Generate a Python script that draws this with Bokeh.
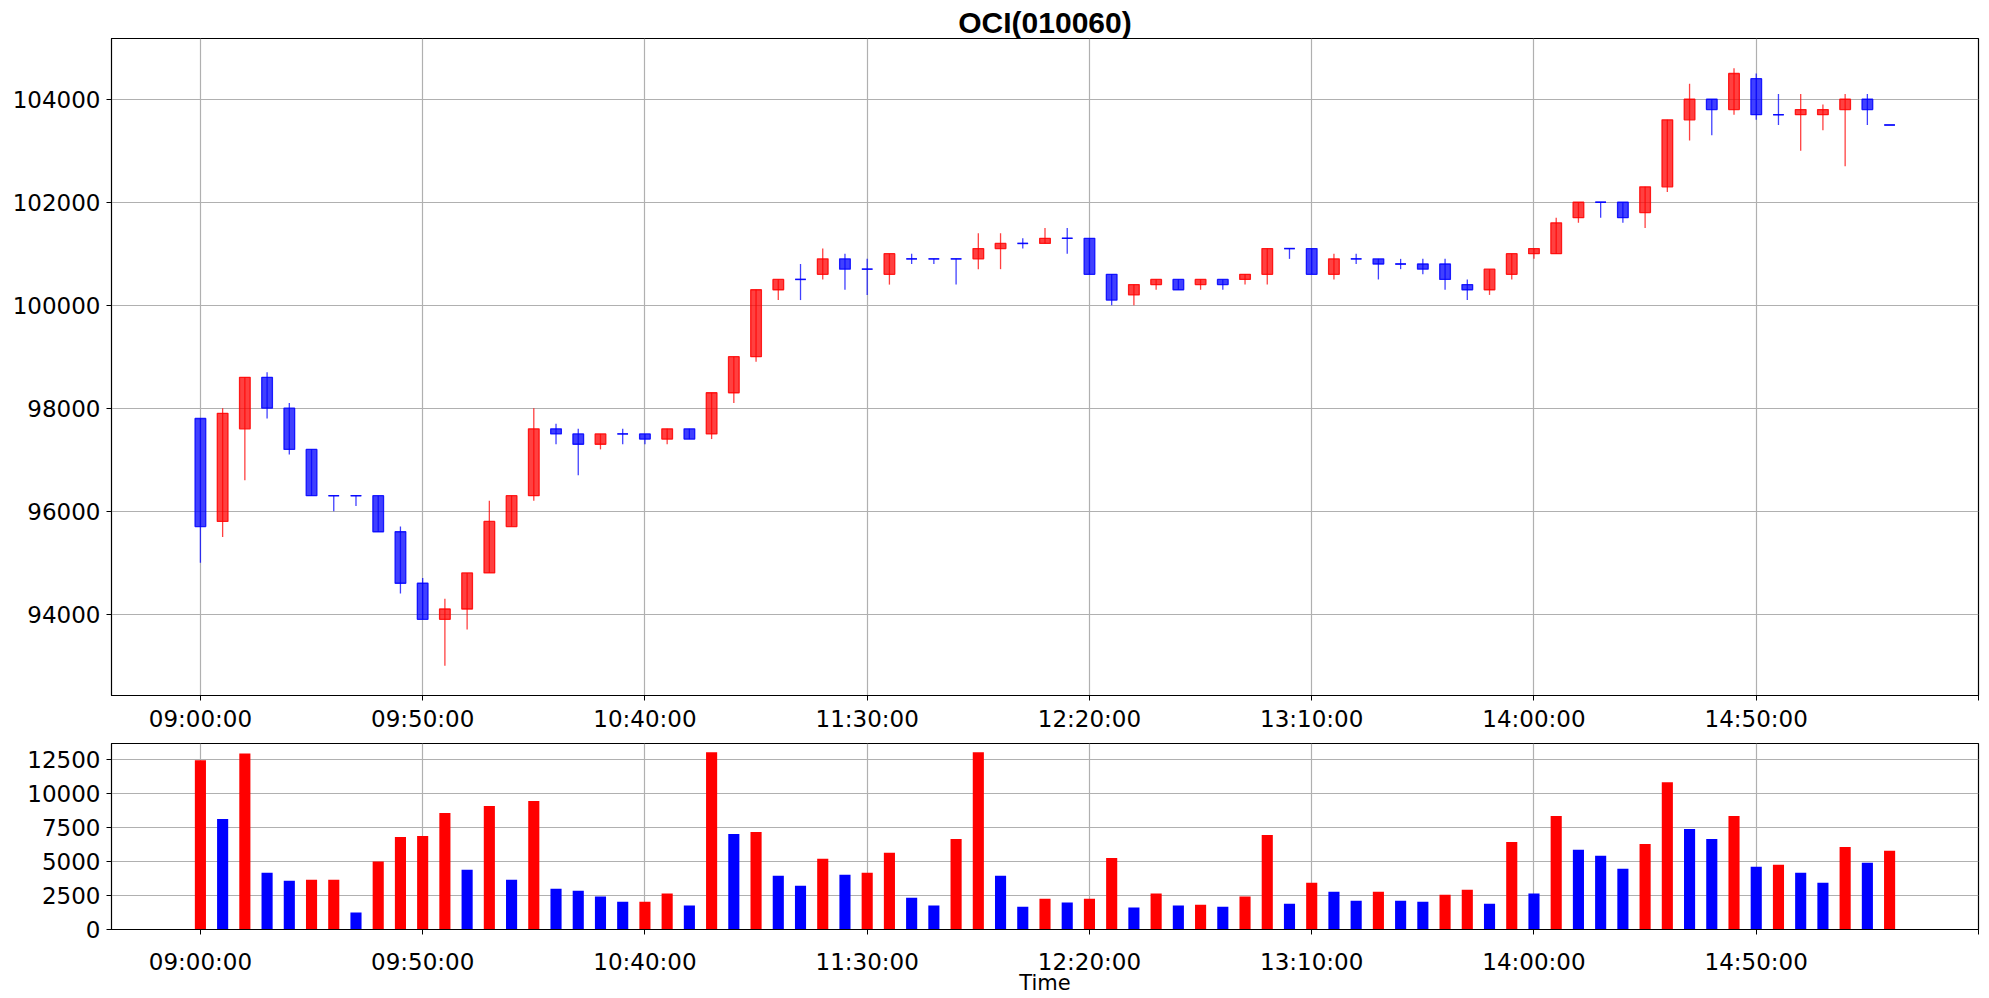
from bokeh.plotting import figure
from bokeh.models import Range1d, FixedTicker, ColumnDataSource
from bokeh.layouts import column
from bokeh.embed import file_html
from bokeh.resources import INLINE

title_text = "OCI(010060)"

# 5-minute bars, 09:00:00 .. 15:20:00
times = []
for k in range(77):
    m = 9 * 60 + 5 * k
    times.append(f"{m // 60:02d}:{m % 60:02d}:00")

open_ = [97800, 95800, 97600, 98600, 98000, 97200, 96300, 96300, 96300, 95600,
         94600, 93900, 94100, 94800, 95700, 96300, 97600, 97500, 97300, 97500,
         97500, 97400, 97600, 97500, 98300, 99000, 100300, 100500, 100600, 100900,
         100700, 100600, 100900, 100900, 100900, 100900, 101100, 101200, 101200, 101300,
         101300, 100600, 100200, 100400, 100500, 100400, 100500, 100500, 100600, 101100,
         101100, 100600, 100900, 100900, 100800, 100800, 100800, 100400, 100300, 100600,
         101000, 101000, 101700, 102000, 102000, 101800, 102300, 103600, 104000, 103800,
         104400, 103700, 103700, 103700, 103800, 104000, 103500]
high = [97800, 98000, 98600, 98700, 98100, 97200, 96300, 96300, 96300, 95700,
        94700, 94300, 94800, 96200, 96300, 98000, 97700, 97600, 97500, 97600,
        97500, 97600, 97600, 98300, 99000, 100300, 100500, 100800, 101100, 101000,
        100900, 101000, 101000, 100900, 100900, 101400, 101400, 101300, 101500, 101500,
        101300, 100600, 100400, 100500, 100500, 100500, 100500, 100600, 101100, 101100,
        101100, 101000, 101000, 100900, 100900, 100900, 100900, 100500, 100700, 101000,
        101100, 101700, 102000, 102000, 102000, 102300, 103600, 104300, 104000, 104600,
        104500, 104100, 104100, 103900, 104100, 104100, 103500]
low = [95000, 95500, 96600, 97800, 97100, 96300, 96000, 96100, 95600, 94400,
       93900, 93000, 93700, 94800, 95700, 96200, 97300, 96700, 97200, 97300,
       97300, 97300, 97400, 97400, 98100, 98900, 100100, 100100, 100500, 100300,
       100200, 100400, 100800, 100800, 100400, 100700, 100700, 101100, 101200, 101000,
       100600, 100000, 100000, 100300, 100300, 100300, 100300, 100400, 100400, 100900,
       100600, 100500, 100800, 100500, 100700, 100600, 100300, 100100, 100200, 100500,
       100900, 101000, 101600, 101700, 101600, 101500, 102200, 103200, 103300, 103700,
       103600, 103500, 103000, 103400, 102700, 103500, 103500]
close = [95700, 97900, 98600, 98000, 97200, 96300, 96300, 96300, 95600, 94600,
         93900, 94100, 94800, 95800, 96300, 97600, 97500, 97300, 97500, 97500,
         97400, 97600, 97400, 98300, 99000, 100300, 100500, 100500, 100900, 100700,
         100700, 101000, 100900, 100900, 100900, 101100, 101200, 101200, 101300, 101300,
         100600, 100100, 100400, 100500, 100300, 100500, 100400, 100600, 101100, 101100,
         100600, 100900, 100900, 100800, 100800, 100700, 100500, 100300, 100700, 101000,
         101100, 101600, 102000, 102000, 101700, 102300, 103600, 104000, 103800, 104500,
         103700, 103700, 103800, 103800, 104000, 103800, 103500]
volume = [12450, 8130, 12960, 4170, 3590, 3660, 3660, 1245, 5000, 6810,
          6880, 8570, 4390, 9080, 3660, 9450, 3000, 2860, 2420, 2050,
          2050, 2640, 1760, 13035, 7030, 7180, 3950, 3220, 5200, 4030,
          4170, 5640, 2340, 1760, 6660, 13035, 3950, 1680, 2270, 1980,
          2270, 5270, 1610, 2640, 1760, 1830, 1680, 2420, 6960, 1900,
          3440, 2780, 2120, 2780, 2120, 2050, 2560, 2930, 1900, 6440,
          2640, 8350, 5860, 5420, 4470, 6300, 10840, 7400, 6660, 8350,
          4610, 4760, 4170, 3440, 6080, 4910, 5790]

price_ticks = [94000, 96000, 98000, 100000, 102000, 104000]
volume_ticks = [0, 2500, 5000, 7500, 10000, 12500]

UP = "#ff0000"
DOWN = "#0000ff"

n = len(times)
xs = list(range(n))
x_ticks = list(range(0, 81, 10))
x_labels = {t: (times[t] if t < n else "") for t in x_ticks}

candle_color = [UP if c > o else DOWN for o, c in zip(open_, close)]
body_top = [max(o, c) for o, c in zip(open_, close)]
body_bot = [min(o, c) for o, c in zip(open_, close)]
vol_color = [UP] + [UP if volume[i] >= volume[i - 1] else DOWN for i in range(1, n)]

BODY_W = 0.48

src = ColumnDataSource(dict(x=xs, o=open_, h=high, l=low, c=close,
                            top=body_top, bot=body_bot, col=candle_color))
doji_idx = [i for i in xs if open_[i] == close[i]]
doji = ColumnDataSource(dict(x0=[xs[i] - BODY_W / 2 for i in doji_idx],
                             x1=[xs[i] + BODY_W / 2 for i in doji_idx],
                             y=[open_[i] for i in doji_idx],
                             col=[candle_color[i] for i in doji_idx]))
vsrc = ColumnDataSource(dict(x=xs, v=volume, col=vol_color))

W = 1981
TICK_FONT = "DejaVu Sans"


def style(p, yticks):
    p.outline_line_color = "black"
    p.outline_line_width = 1.2
    p.outline_line_alpha = 1
    p.background_fill_color = "white"
    p.border_fill_color = "white"
    p.xaxis.ticker = FixedTicker(ticks=x_ticks)
    p.xaxis.major_label_overrides = x_labels
    p.yaxis.ticker = FixedTicker(ticks=yticks)
    for ax in (p.xaxis[0], p.yaxis[0]):
        ax.axis_line_color = "black"
        ax.axis_line_width = 1
        ax.major_tick_line_color = "black"
        ax.major_tick_line_width = 1
        ax.major_tick_out = 5
        ax.major_tick_in = 0
        ax.minor_tick_line_color = None
        ax.major_label_text_font = TICK_FONT
        ax.major_label_text_font_size = "23px"
        ax.major_label_text_color = "black"
    p.yaxis.major_label_standoff = 6
    p.xgrid.ticker = FixedTicker(ticks=x_ticks)
    p.ygrid.ticker = FixedTicker(ticks=yticks)
    for g in (p.xgrid[0], p.ygrid[0]):
        g.grid_line_color = "#b0b0b0"
        g.grid_line_width = 1.2


p1 = figure(width=W, height=735, output_backend="svg", toolbar_location=None,
            x_range=Range1d(-4, 80), y_range=Range1d(92420, 105180),
            min_border_left=111, min_border_right=3, min_border_top=38, min_border_bottom=40)
p1.title.text = title_text
p1.title.align = "center"
p1.title.text_font = "Liberation Sans"
p1.title.text_font_style = "bold"
p1.title.text_font_size = "30px"
p1.title.text_color = "black"
p1.title.standoff = 0
style(p1, price_ticks)
p1.yaxis.formatter.use_scientific = False
p1.xaxis.major_label_standoff = 5

p1.vbar(x="x", width=BODY_W, top="top", bottom="bot", source=src,
        fill_color="col", fill_alpha=0.75, line_color="col", line_alpha=0.85, line_width=1.3)
p1.segment(x0="x", y0="l", x1="x", y1="h", source=src, line_color="col", line_alpha=0.75, line_width=1.3)
p1.segment(x0="x0", y0="y", x1="x1", y1="y", source=doji, line_color="col", line_alpha=0.75, line_width=1.5)

p2 = figure(width=W, height=262, output_backend="svg", toolbar_location=None,
            x_range=p1.x_range, y_range=Range1d(0, 13687),
            min_border_left=111, min_border_right=3, min_border_top=8, min_border_bottom=67)
style(p2, volume_ticks)
p2.yaxis.formatter.use_scientific = False
p2.xaxis.major_label_standoff = 14
p2.xaxis.axis_label = "Time"
p2.xaxis.axis_label_text_font = TICK_FONT
p2.xaxis.axis_label_text_font_size = "21px"
p2.xaxis.axis_label_text_font_style = "normal"
p2.xaxis.axis_label_text_color = "black"
p2.xaxis.axis_label_standoff = -7
p2.vbar(x="x", width=0.5, top="v", bottom=0, source=vsrc, fill_color="col", line_color=None)

layout = column(p1, p2, spacing=0)
open("out.html", "w").write(file_html(layout, INLINE))
